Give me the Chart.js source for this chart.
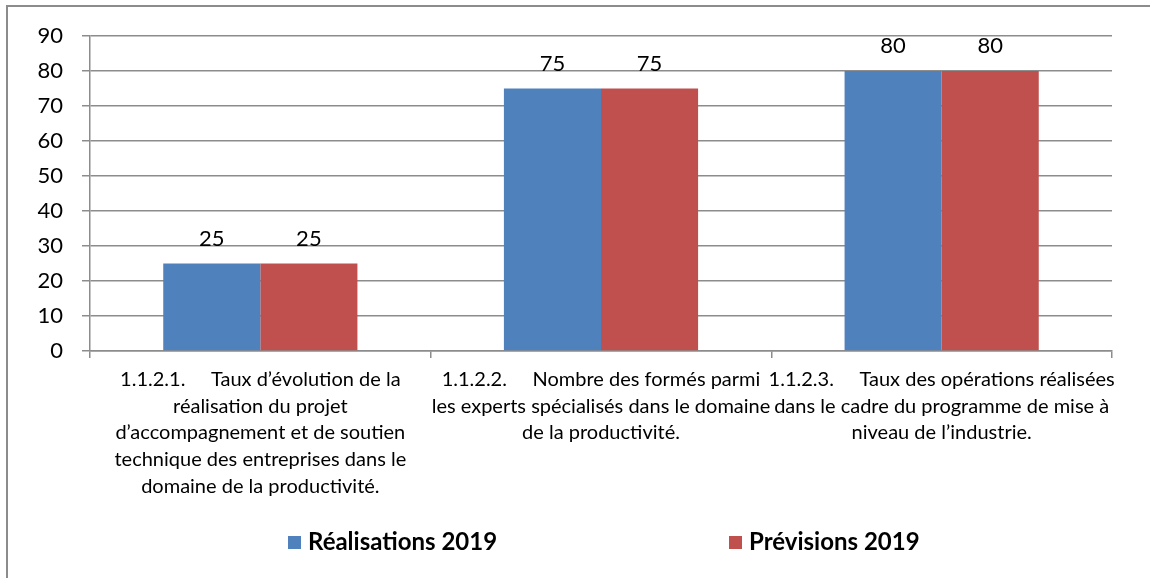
<!DOCTYPE html>
<html>
<head>
<meta charset="utf-8">
<script src="https://cdn.jsdelivr.net/npm/chart.js@4.4.1/dist/chart.umd.min.js"></script>
<style>
  html, body { margin: 0; padding: 0; background: #ffffff; }
  #wrap { position: relative; width: 1150px; height: 578px; }
</style>
</head>
<body>
<div id="wrap"><canvas id="c" width="1150" height="578"></canvas></div>
<script>
// ---- data ----
const categories = [
  ["1.1.2.1.     Taux d’évolution de la", "réalisation du projet", "d’accompagnement et de soutien", "technique des entreprises dans le", "domaine de la productivité."],
  ["1.1.2.2.     Nombre des formés parmi", "les experts spécialisés dans le domaine", "de la productivité."],
  ["1.1.2.3.     Taux des opérations réalisées", "dans le cadre du programme de mise à", "niveau de l’industrie."]
];
const seriesNames = ["Réalisations 2019", "Prévisions 2019"];
const realisations2019 = [25, 75, 80];
const previsions2019 = [25, 75, 80];
const yTicks = [0, 10, 20, 30, 40, 50, 60, 70, 80, 90];

const FONT = "Lato, 'Open Sans', sans-serif";
const GRID = '#8c8c8c';

const framePlugin = {
  id: 'frame',
  beforeDraw(chart) {
    const ctx = chart.ctx;
    ctx.save();
    ctx.fillStyle = '#ffffff';
    ctx.fillRect(0, 0, chart.width, chart.height);
    ctx.fillStyle = '#8c8c8c';
    ctx.fillRect(6, 5, 2, chart.height - 5);
    ctx.fillRect(6, 5, chart.width - 6, 2);
    ctx.restore();
  }
};

const valueLabels = {
  id: 'valueLabels',
  afterDatasetsDraw(chart) {
    const ctx = chart.ctx;
    ctx.save();
    ctx.font = '22px ' + FONT;
    ctx.fillStyle = '#000';
    ctx.textAlign = 'center';
    ctx.textBaseline = 'middle';
    chart.data.datasets.forEach((ds, di) => {
      const meta = chart.getDatasetMeta(di);
      meta.data.forEach((bar, i) => {
        ctx.fillText(String(ds.data[i]), bar.x, bar.y - 25);
      });
    });
    ctx.restore();
  }
};

const customLegend = {
  id: 'customLegend',
  afterDraw(chart) {
    const ctx = chart.ctx;
    const xs = [288, 729];
    const yc = 542;
    ctx.save();
    ctx.font = 'bold 24px ' + FONT;
    ctx.textBaseline = 'middle';
    ctx.textAlign = 'left';
    chart.data.datasets.forEach((ds, di) => {
      ctx.fillStyle = ds.backgroundColor;
      ctx.fillRect(xs[di], yc - 6, 13, 13);
      ctx.fillStyle = '#000';
      ctx.fillText(ds.label, xs[di] + 20, yc);
    });
    ctx.restore();
  }
};

new Chart(document.getElementById('c'), {
  type: 'bar',
  data: {
    labels: categories,
    datasets: [
      { label: seriesNames[0], data: realisations2019, backgroundColor: '#4F81BD', borderWidth: 0 },
      { label: seriesNames[1], data: previsions2019, backgroundColor: '#C0504D', borderWidth: 0 }
    ]
  },
  options: {
    responsive: false,
    animation: false,
    devicePixelRatio: 1,
    categoryPercentage: 0.57,
    barPercentage: 1.0,
    layout: { padding: { left: 0, top: 36, right: 38, bottom: 0 } },
    plugins: { legend: { display: false }, tooltip: { enabled: false } },
    scales: {
      x: {
        grid: { offset: true, drawOnChartArea: false, drawTicks: true, tickLength: 7, color: GRID, lineWidth: 1.5 },
        border: { display: true, color: GRID, width: 1.5 },
        ticks: {
          autoSkip: false, maxRotation: 0, minRotation: 0,
          color: '#000', padding: 8,
          font: { family: FONT, size: 20, lineHeight: 1.335 }
        },
        afterFit(scale) { scale.height = 227; }
      },
      y: {
        min: 0, max: 90,
        afterBuildTicks(scale) { scale.ticks = yTicks.map(v => ({ value: v })); },
        grid: { color: GRID, lineWidth: 1.5, drawTicks: true, tickLength: 8 },
        border: { display: true, color: GRID, width: 1.5 },
        ticks: { color: '#000', padding: 19, font: { family: FONT, size: 22 } },
        afterFit(scale) { scale.width = 90; }
      }
    }
  },
  plugins: [framePlugin, valueLabels, customLegend]
});
</script>
</body>
</html>
